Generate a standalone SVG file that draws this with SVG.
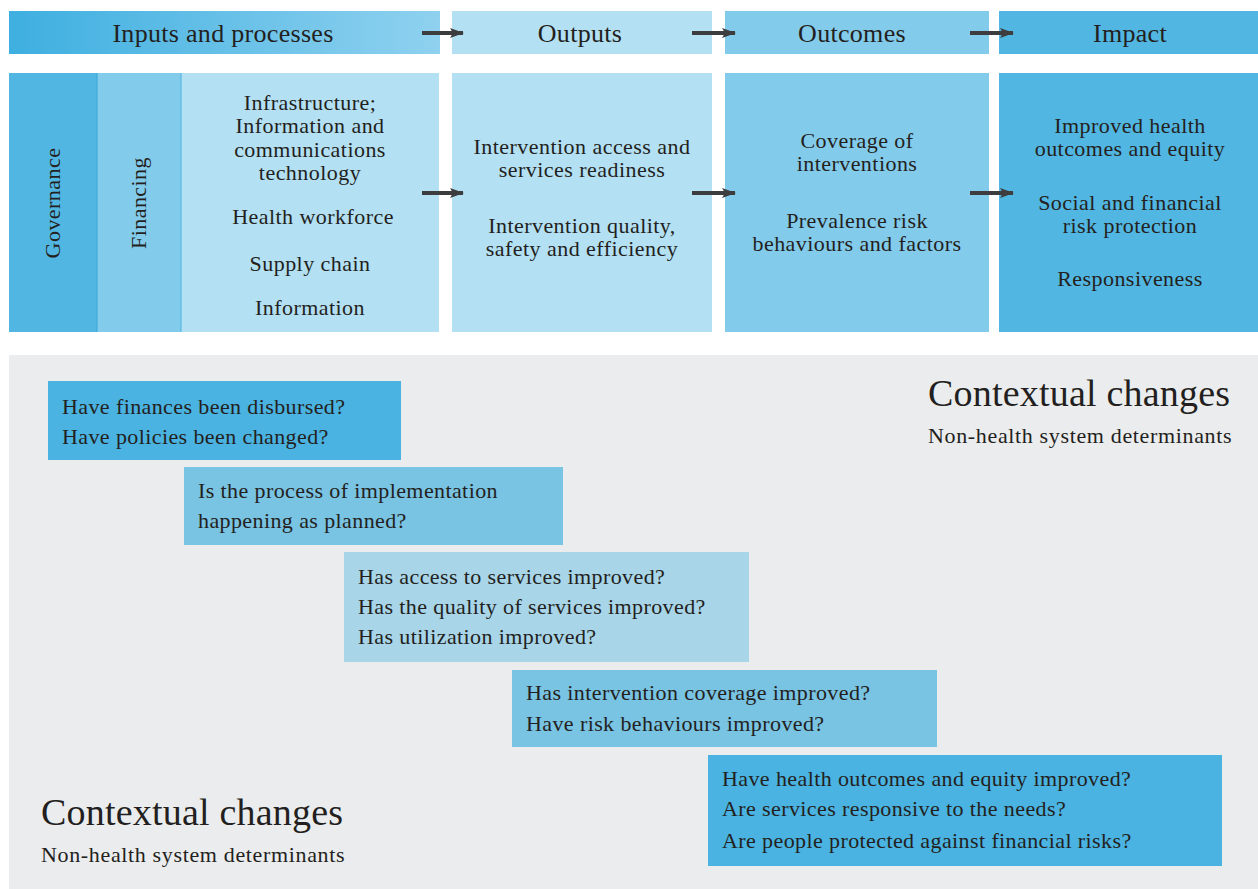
<svg xmlns="http://www.w3.org/2000/svg" width="1258" height="889" viewBox="0 0 1258 889">
<defs>
<linearGradient id="g1" x1="0" y1="0" x2="1" y2="0">
<stop offset="0" stop-color="#3eafe0"/>
<stop offset="1" stop-color="#8fd1ef"/>
</linearGradient>
<marker id="ah" viewBox="0 0 14 10" refX="13" refY="5" markerWidth="14" markerHeight="10" markerUnits="userSpaceOnUse" orient="auto">
<path d="M0,0 L14,5 L0,10 L3,5 Z" fill="#3d3d3f"/>
</marker>
<style>
text{font-family:"Liberation Serif","DejaVu Serif",serif;fill:#231f20}
.hd{font-size:26px;text-anchor:middle;letter-spacing:0.3px}
.bd{font-size:22px;text-anchor:middle;letter-spacing:0.45px}
.q{font-size:22px;letter-spacing:0.4px}
.cc{font-size:38px;letter-spacing:0.2px}
.ns{font-size:22px;letter-spacing:0.65px}
.arr{stroke:#3d3d3f;stroke-width:4;fill:none;marker-end:url(#ah)}
</style>
</defs>
<rect width="1258" height="889" fill="#ffffff"/>

<g id="header-inputs"><rect x="9" y="11" width="431" height="43" fill="url(#g1)"/><text class="hd" x="223" y="42">Inputs and processes</text></g>
<g id="header-outputs"><rect x="452" y="11" width="260" height="43" fill="#b3e0f3"/><text class="hd" x="580" y="42">Outputs</text></g>
<g id="header-outcomes"><rect x="725" y="11" width="264" height="43" fill="#83cbeb"/><text class="hd" x="852" y="42">Outcomes</text></g>
<g id="header-impact"><rect x="999" y="11" width="259" height="43" fill="#52b6e2"/><text class="hd" x="1130" y="42">Impact</text></g>

<g id="governance"><rect x="9" y="73" width="88" height="259" fill="#52b6e2"/><text class="bd" transform="translate(60,203) rotate(-90)">Governance</text></g>
<g id="financing"><rect x="97" y="73" width="84" height="259" fill="#83cbeb"/><line x1="97" y1="73" x2="97" y2="332" stroke="#3ea9da" stroke-width="1.2"/><text class="bd" transform="translate(146,203) rotate(-90)">Financing</text></g>
<g id="inputs"><rect x="181" y="73" width="258" height="259" fill="#b3e0f3"/><line x1="181" y1="73" x2="181" y2="332" stroke="#5ab9e4" stroke-width="1.2"/>
<text class="bd" x="310" y="110">Infrastructure;</text>
<text class="bd" x="310" y="133">Information and</text>
<text class="bd" x="310" y="157">communications</text>
<text class="bd" x="310" y="180">technology</text>
<text class="bd" x="313" y="224">Health workforce</text>
<text class="bd" x="310" y="271">Supply chain</text>
<text class="bd" x="310" y="315">Information</text>
</g>
<g id="outputs"><rect x="452" y="73" width="260" height="259" fill="#b3e0f3"/>
<text class="bd" x="582" y="154">Intervention access and</text>
<text class="bd" x="582" y="177">services readiness</text>
<text class="bd" x="582" y="233">Intervention quality,</text>
<text class="bd" x="582" y="256">safety and efficiency</text>
</g>
<g id="outcomes"><rect x="725" y="73" width="264" height="259" fill="#83cbeb"/>
<text class="bd" x="857" y="148">Coverage of</text>
<text class="bd" x="857" y="171">interventions</text>
<text class="bd" x="857" y="228">Prevalence risk</text>
<text class="bd" x="857" y="251">behaviours and factors</text>
</g>
<g id="impact"><rect x="999" y="73" width="259" height="259" fill="#52b6e2"/>
<text class="bd" x="1130" y="133">Improved health</text>
<text class="bd" x="1130" y="156">outcomes and equity</text>
<text class="bd" x="1130" y="210">Social and financial</text>
<text class="bd" x="1130" y="233">risk protection</text>
<text class="bd" x="1130" y="286">Responsiveness</text>
</g>

<g id="connectors">
<line class="arr" x1="422" y1="33" x2="463" y2="33"/>
<line class="arr" x1="692" y1="33" x2="735" y2="33"/>
<line class="arr" x1="970" y1="33" x2="1013" y2="33"/>
<line class="arr" x1="422" y1="193" x2="463" y2="193"/>
<line class="arr" x1="692" y1="193" x2="735" y2="193"/>
<line class="arr" x1="970" y1="193" x2="1013" y2="193"/>
</g>

<g id="context-panel"><rect x="9" y="355" width="1249" height="534" fill="#ebeced"/>
<text class="cc" x="928" y="406">Contextual changes</text>
<text class="ns" x="928" y="443">Non-health system determinants</text>
<text class="cc" x="41" y="825">Contextual changes</text>
<text class="ns" x="41" y="862">Non-health system determinants</text>
</g>

<g id="q1"><rect x="48" y="381" width="353" height="79" fill="#4ab3e1"/>
<text class="q" x="62" y="414">Have finances been disbursed?</text>
<text class="q" x="62" y="444">Have policies been changed?</text></g>
<g id="q2"><rect x="184" y="467" width="379" height="78" fill="#79c3e3"/>
<text class="q" x="198" y="498">Is the process of implementation</text>
<text class="q" x="198" y="528">happening as planned?</text></g>
<g id="q3"><rect x="344" y="552" width="405" height="110" fill="#a8d5e8"/>
<text class="q" x="358" y="584">Has access to services improved?</text>
<text class="q" x="358" y="614">Has the quality of services improved?</text>
<text class="q" x="358" y="644">Has utilization improved?</text></g>
<g id="q4"><rect x="512" y="670" width="425" height="77" fill="#79c3e3"/>
<text class="q" x="526" y="700">Has intervention coverage improved?</text>
<text class="q" x="526" y="731">Have risk behaviours improved?</text></g>
<g id="q5"><rect x="708" y="755" width="514" height="111" fill="#4ab3e1"/>
<text class="q" x="722" y="786">Have health outcomes and equity improved?</text>
<text class="q" x="722" y="816">Are services responsive to the needs?</text>
<text class="q" x="722" y="848">Are people protected against financial risks?</text></g>
</svg>
